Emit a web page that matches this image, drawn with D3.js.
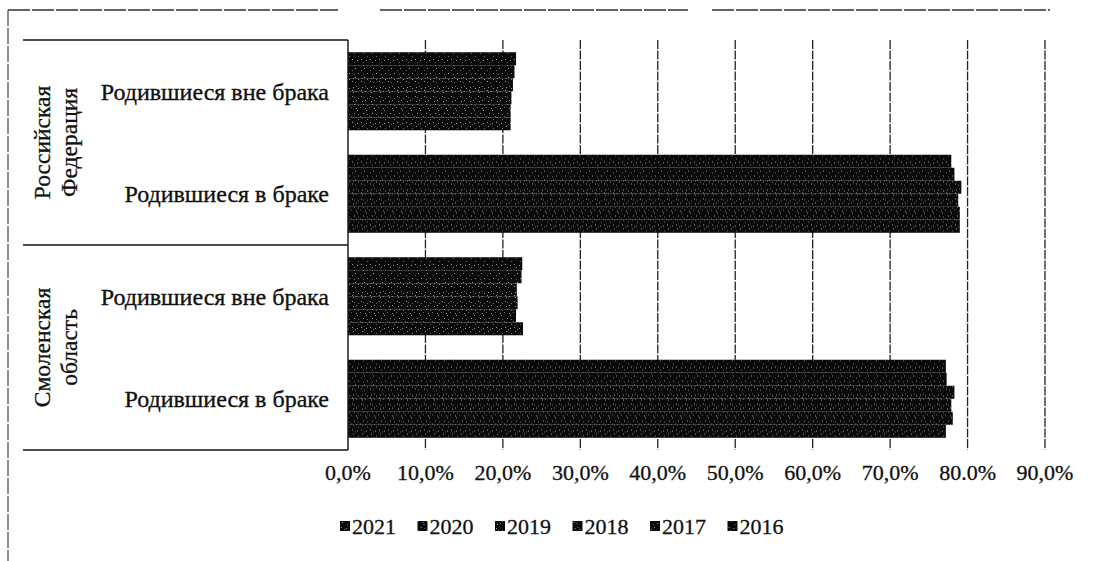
<!DOCTYPE html>
<html>
<head>
<meta charset="utf-8">
<script src="https://cdn.jsdelivr.net/npm/d3@7"></script>
<style>
  body { margin: 0; background: #fff; }
  svg text { font-family: "Liberation Serif", "DejaVu Serif", serif; }
</style>
</head>
<body>
<div id="chart"></div>
<script>
// legend order; Excel draws the first series at the bottom of each cluster
const years = ["2021", "2020", "2019", "2018", "2017", "2016"]
const regions = ["Российская Федерация", "Смоленская область"]
const kinds = ["Родившиеся вне брака", "Родившиеся в браке"]

// shares in %, same order as years
const rfOutside = [21.0, 21.0, 21.1, 21.3, 21.5, 21.7]
const rfInside = [79.0, 79.0, 78.8, 79.2, 78.3, 77.9]
const smOutside = [22.6, 21.7, 21.9, 21.8, 22.4, 22.5]
const smInside = [77.2, 78.1, 77.9, 78.3, 77.3, 77.2]

const xTicks = [0, 10, 20, 30, 40, 50, 60, 70, 80, 90]
const xTickLabels = ["0,0%", "10,0%", "20,0%", "30,0%", "40,0%", "50,0%", "60,0%", "70,0%", "80.0%", "90,0%"]

const rows = [
    { region: regions[0], kind: kinds[0], values: rfOutside },
    { region: regions[0], kind: kinds[1], values: rfInside },
    { region: regions[1], kind: kinds[0], values: smOutside },
    { region: regions[1], kind: kinds[1], values: smInside }
]
rows.forEach((r, i) => { r.key = i })

const width = 1093
const height = 561
const plotLeft = 348
const plotRight = 1045
const plotTop = 40
const plotBottom = 450
const serif = "'Liberation Serif', 'DejaVu Serif', serif"

const svg = d3.select("#chart").append("svg")
    .attr("width", width)
    .attr("height", height)
    .style("display", "block")

// speckled black fills, a little different per series
const defs = svg.append("defs")
const speckles = [
    [[1, 1], [4, 3], [2, 5], [7, 7], [6, 2]],
    [[3, 1], [0, 4], [5, 5], [7, 2], [6, 7]],
    [[1, 2], [3, 3], [5, 6], [7, 4], [2, 7]],
    [[2, 2], [5, 1], [1, 5], [4, 6], [7, 3]],
    [[4, 1], [1, 3], [7, 6], [3, 7]],
    [[1, 1], [3, 4], [6, 2], [7, 7]]
]
years.forEach((yr, i) => {
    const p = defs.append("pattern")
        .attr("id", "pat" + yr)
        .attr("patternUnits", "userSpaceOnUse")
        .attr("width", 9)
        .attr("height", 9)
    p.append("rect").attr("width", 9).attr("height", 9).attr("fill", "#0a0a0a")
    speckles[i].forEach((d, j) => {
        p.append("rect")
            .attr("x", d[0]).attr("y", d[1])
            .attr("width", 1).attr("height", 1)
            .attr("fill", j % 2 ? "#6a6a6a" : "#9a9a9a")
    })
})

const x = d3.scaleLinear().domain([0, 90]).range([plotLeft, plotRight])
const y0 = d3.scaleBand().domain(rows.map(r => r.key)).range([plotTop, plotBottom])
const y1 = d3.scaleBand()
    .domain(years.slice().reverse())
    .range([0, y0.bandwidth()])
    .paddingOuter(0.94)

// scanned page frame
svg.append("line")
    .attr("x1", 8).attr("x2", 8).attr("y1", 10).attr("y2", height)
    .attr("stroke", "#444").attr("stroke-width", 1.2)
    .attr("stroke-dasharray", "16,2")
const topSegs = [[8, 338], [380, 688], [712, 1050]]
svg.selectAll(".frame-top")
    .data(topSegs)
    .enter().append("line")
    .attr("x1", d => d[0]).attr("x2", d => d[1])
    .attr("y1", 10).attr("y2", 10)
    .attr("stroke", "#333").attr("stroke-width", 1.3)
    .attr("stroke-dasharray", "22,2")

// gridlines
svg.append("g")
    .selectAll("line")
    .data(xTicks.slice(1))
    .enter().append("line")
    .attr("x1", d => x(d)).attr("x2", d => x(d))
    .attr("y1", plotTop).attr("y2", plotBottom)
    .attr("stroke", "#222").attr("stroke-width", 1.3)
    .attr("stroke-dasharray", "9,1.5")

// bars
const groups = svg.append("g")
    .selectAll("g")
    .data(rows)
    .enter().append("g")
    .attr("transform", d => "translate(0," + y0(d.key) + ")")

groups.selectAll("rect")
    .data(d => d.values.map((v, i) => ({ year: years[i], value: v })))
    .enter().append("rect")
    .attr("x", x(0))
    .attr("y", d => y1(d.year))
    .attr("width", d => x(d.value) - x(0))
    .attr("height", y1.bandwidth())
    .attr("fill", d => "url(#pat" + d.year + ")")

// category axis box
const boxLines = [plotTop, y0(2), plotBottom]
svg.selectAll(".box")
    .data(boxLines)
    .enter().append("line")
    .attr("x1", 23).attr("x2", plotLeft)
    .attr("y1", d => d).attr("y2", d => d)
    .attr("stroke", "#111").attr("stroke-width", 1.4)
svg.append("line")
    .attr("x1", plotLeft).attr("x2", plotLeft)
    .attr("y1", plotTop).attr("y2", plotBottom)
    .attr("stroke", "#111").attr("stroke-width", 1.4)

svg.append("g")
    .selectAll("text")
    .data(rows)
    .enter().append("text")
    .attr("x", 329)
    .attr("y", d => y0(d.key) + y0.bandwidth() / 2)
    .attr("dy", "0.35em")
    .attr("text-anchor", "end")
    .attr("font-family", serif)
    .attr("font-size", 24)
    .attr("fill", "#111")
    .attr("stroke", "#111").attr("stroke-width", 0.35)
    .text(d => d.kind)

regions.forEach((reg, i) => {
    const cy = (y0(i * 2) + y0(i * 2 + 1) + y0.bandwidth()) / 2
    const words = reg.split(" ")
    const t = svg.append("text")
        .attr("transform", "translate(55," + cy + ") rotate(-90)")
        .attr("text-anchor", "middle")
        .attr("font-family", serif)
        .attr("font-size", 23.5)
        .attr("fill", "#111")
        .attr("stroke", "#111").attr("stroke-width", 0.3)
    words.forEach((w, j) => {
        t.append("tspan")
            .attr("x", 0)
            .attr("y", (j - (words.length - 1) / 2) * 27)
            .attr("dy", "0.35em")
            .text(w)
    })
})

// value axis labels
svg.append("g")
    .selectAll("text")
    .data(xTicks)
    .enter().append("text")
    .attr("x", d => x(d))
    .attr("y", 472)
    .attr("dy", "0.35em")
    .attr("text-anchor", "middle")
    .attr("font-family", serif)
    .attr("font-size", 22)
    .attr("fill", "#111")
    .attr("stroke", "#111").attr("stroke-width", 0.3)
    .text((d, i) => xTickLabels[i])

// legend
const legend = svg.append("g")
    .selectAll("g")
    .data(years)
    .enter().append("g")
    .attr("transform", (d, i) => "translate(" + (340 + i * 77.5) + ",526)")
legend.append("rect")
    .attr("x", 0).attr("y", -5)
    .attr("width", 10).attr("height", 10)
    .attr("fill", d => "url(#pat" + d + ")")
legend.append("text")
    .attr("x", 12)
    .attr("dy", "0.35em")
    .attr("font-family", serif)
    .attr("font-size", 22)
    .attr("fill", "#111")
    .attr("stroke", "#111").attr("stroke-width", 0.3)
    .text(d => d)
</script>
</body>
</html>
